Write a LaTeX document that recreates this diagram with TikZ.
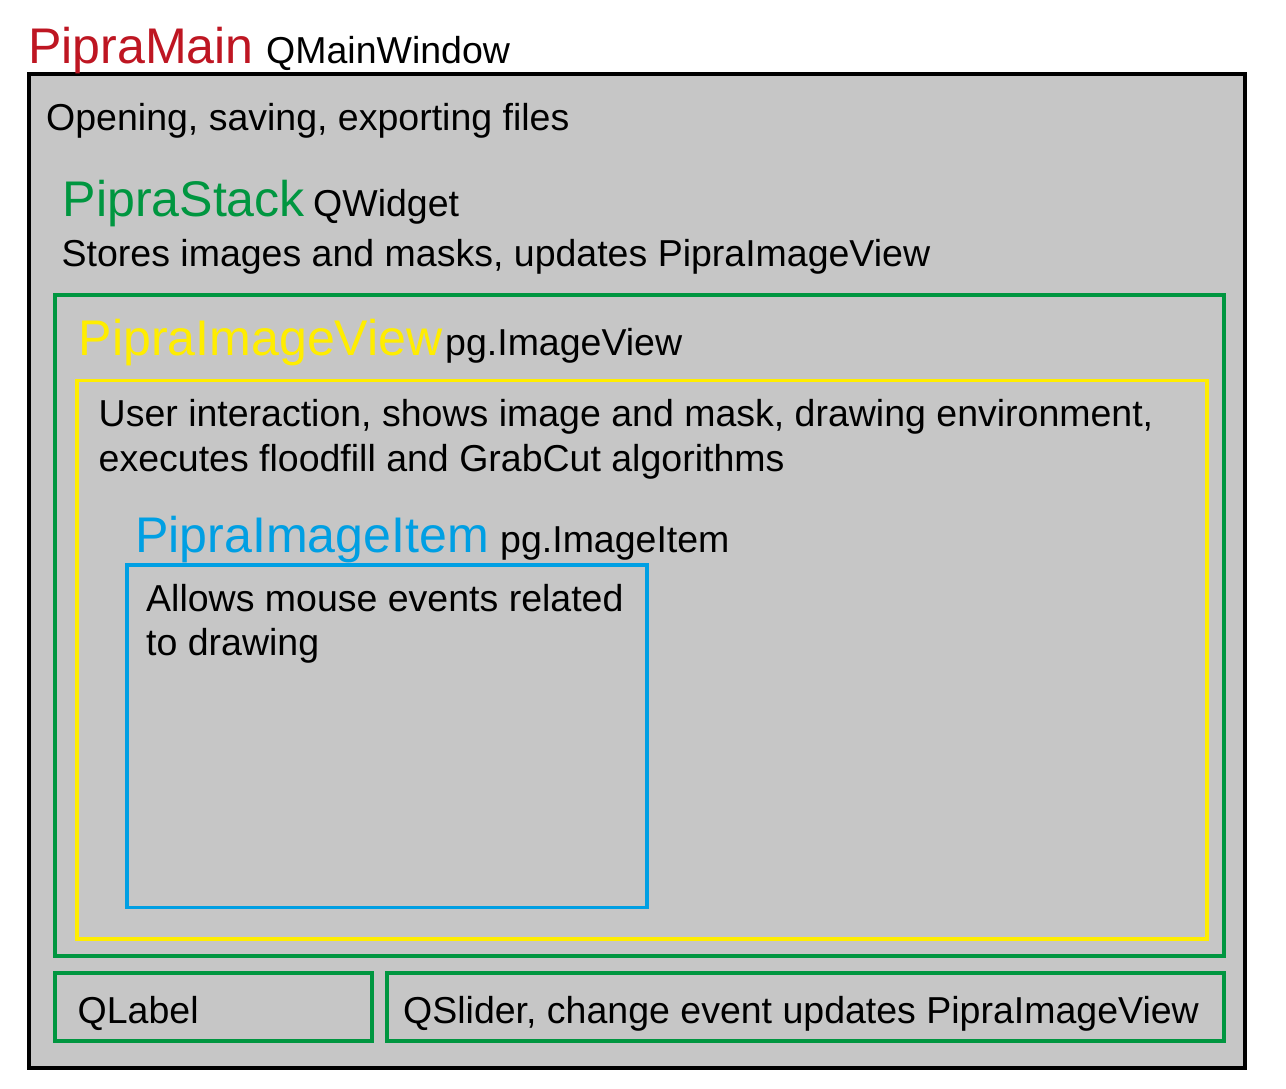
\documentclass[tikz,border=0pt]{standalone}
\usepackage{fontspec}
\setmainfont{Liberation Sans}
\definecolor{bggray}{HTML}{C6C6C6}
\definecolor{pred}{HTML}{BE1622}
\definecolor{pgreen}{HTML}{009640}
\definecolor{pyellow}{HTML}{FFED00}
\definecolor{pblue}{HTML}{009FE3}
\tikzset{
  box/.style={draw, rectangle, inner sep=0pt, outer sep=0pt, anchor=north west},
  title/.style={anchor=base west, inner sep=0pt, font=\fontsize{50.1}{56}\selectfont},
  body/.style={anchor=base west, inner sep=0pt, font=\fontsize{37.5}{44}\selectfont, text=black},
}
\begin{document}
\begin{tikzpicture}[x=1pt,y=-1pt]
\useasboundingbox (0,0) rectangle (1286,1089);
% boxes
\node[box, fill=bggray, line width=4pt, draw=black, minimum width=1215.8pt, minimum height=993pt] (main) at (28.7,74.5) {};
\node[box, draw=pgreen, line width=3.8pt, minimum width=1169pt, minimum height=661.3pt] (stack) at (55.3,294.7) {};
\node[box, draw=pyellow, line width=3.8pt, minimum width=1130pt, minimum height=558.2pt] (view) at (77,380.5) {};
\node[box, draw=pblue, line width=3.8pt, minimum width=519.7pt, minimum height=342.5pt] (item) at (127.3,565) {};
\node[box, draw=pgreen, line width=3.8pt, minimum width=316.4pt, minimum height=68pt] (qlabel) at (55.3,972.7) {};
\node[box, draw=pgreen, line width=3.8pt, minimum width=837pt, minimum height=68pt] (qslider) at (387.3,972.7) {};
% texts
\node[title, text=pred] (tmain) at (28,64) {PipraMain};
\node[body] (tmainc) at (266,64) {QMainWindow};
\node[body] (dmain) at (46,131) {Opening, saving, exporting files};
\node[title, text=pgreen] (tstack) at (62.5,217) {PipraStack};
\node[body] (tstackc) at (313,217) {QWidget};
\node[body] (dstack) at (61.5,266) {Stores images and masks, updates PipraImageView};
\node[title, text=pyellow] (tview) at (78.5,355) {PipraImageView};
\node[body] (tviewc) at (445,355) {pg.ImageView};
\node[body] (dview1) at (98.5,426) {User interaction, shows image and mask, drawing environment,};
\node[body] (dview2) at (98.5,471) {executes floodfill and GrabCut algorithms};
\node[title, text=pblue] (titem) at (135,552) {PipraImageItem};
\node[body] (titemc) at (500,552) {pg.ImageItem};
\node[body] (ditem1) at (146,611) {Allows mouse events related};
\node[body] (ditem2) at (146,655) {to drawing};
\node[body] (lqlabel) at (77.5,1023) {QLabel};
\node[body] (lqslider) at (403,1023) {QSlider, change event updates PipraImageView};
\end{tikzpicture}
\end{document}
